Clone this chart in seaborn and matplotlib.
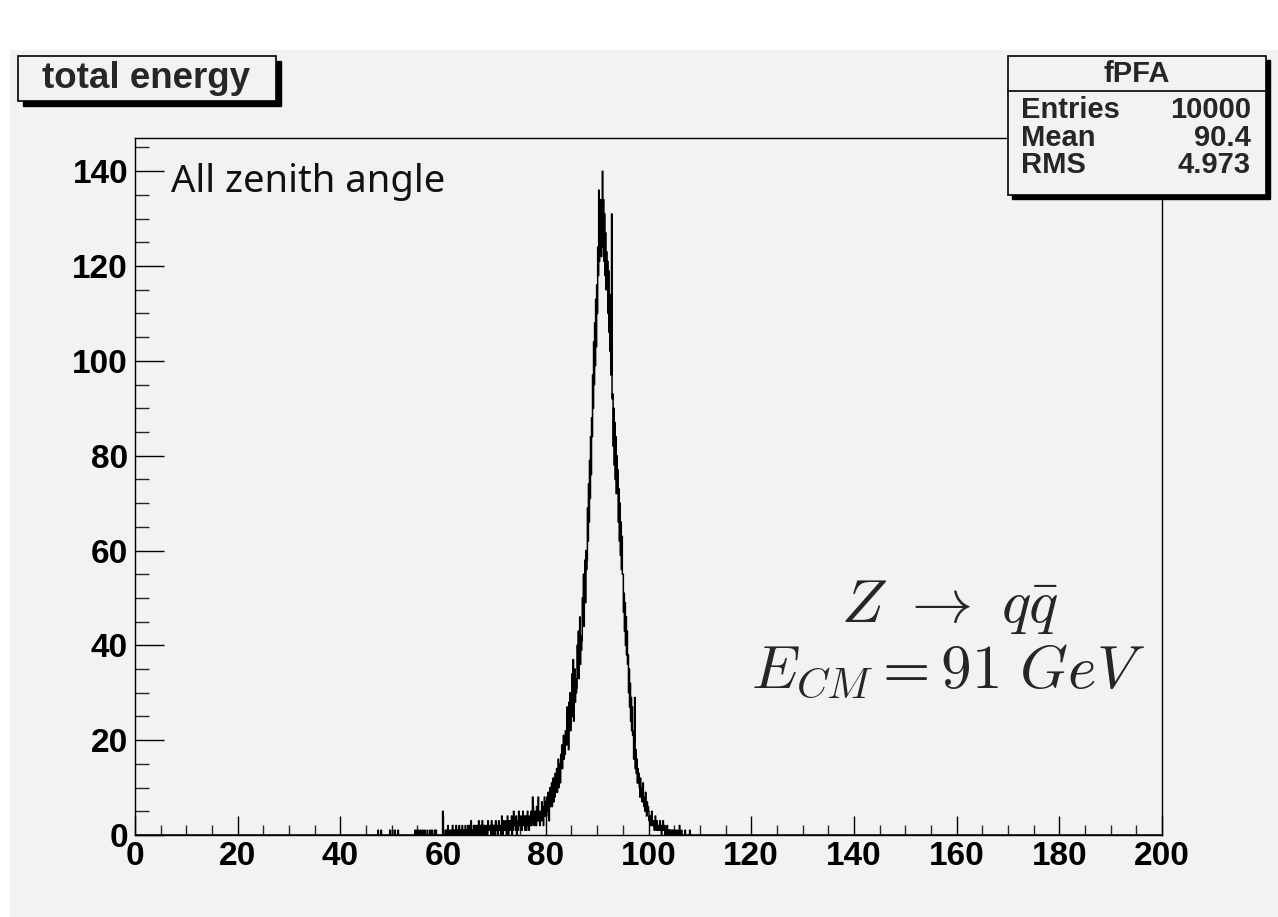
import numpy as np
import pandas as pd
import matplotlib
matplotlib.use("Agg")
import matplotlib.pyplot as plt
from matplotlib.patches import Rectangle
from matplotlib.lines import Line2D
from matplotlib.ticker import MultipleLocator
import seaborn as sns

# ---------------------------------------------------------------------------
# Histogram of total reconstructed energy: 2000 bins from 0 to 200 GeV
# ---------------------------------------------------------------------------
x_min, x_max, n_bins = 0.0, 200.0, 2000

# isolated low-energy bins (bin low edge in GeV, entries)
tail_low_x = [47.3, 47.9, 49.6, 50.1, 50.6, 51.2, 54.5, 54.8, 55.2, 55.6,
              56.0, 56.4, 56.9, 57.4, 57.8, 58.3, 58.6, 59.9, 60.4, 60.6,
              60.9, 61.2, 61.5, 61.8]
tail_low_n = [1, 1, 1, 1, 1, 1, 1, 1, 1, 1,
              1, 1, 1, 1, 1, 1, 1, 5, 1, 1,
              2, 1, 1, 2]

# consecutive bins starting at 62.0 GeV, one row per GeV
body_start = 62.0
body_rows = [
    [1, 0, 1, 0, 1, 2, 0, 1, 0, 1],            # 62
    [0, 2, 1, 0, 1, 0, 1, 2, 0, 1],            # 63
    [1, 0, 0, 2, 1, 0, 1, 1, 2, 0],            # 64
    [1, 2, 0, 1, 3, 0, 0, 1, 1, 2],            # 65
    [0, 1, 2, 1, 0, 1, 2, 0, 1, 3],            # 66
    [1, 0, 2, 1, 2, 0, 3, 1, 0, 2],            # 67
    [2, 1, 0, 2, 1, 2, 0, 3, 1, 1],            # 68
    [1, 2, 1, 0, 3, 1, 2, 0, 2, 1],            # 69
    [2, 0, 3, 1, 1, 2, 0, 1, 3, 2],            # 70
    [1, 2, 0, 2, 4, 1, 0, 3, 2, 1],            # 71
    [2, 3, 1, 0, 2, 4, 1, 0, 3, 2],            # 72
    [1, 3, 2, 4, 0, 3, 1, 5, 2, 2],            # 73
    [3, 1, 4, 0, 3, 2, 1, 5, 2, 3],            # 74
    [2, 4, 1, 1, 3, 5, 2, 3, 4, 1],            # 75
    [2, 4, 1, 3, 5, 2, 3, 1, 4, 2],            # 76
    [3, 5, 2, 4, 8, 6, 3, 2, 4, 5],            # 77
    [4, 2, 6, 3, 5, 8, 3, 4, 2, 5],            # 78
    [5, 3, 7, 4, 6, 2, 5, 8, 4, 6],            # 79
    [7, 4, 8, 5, 9, 6, 3, 7, 10, 6],           # 80
    [8, 11, 6, 9, 12, 7, 10, 8, 13, 9],        # 81
    [11, 14, 9, 13, 16, 10, 12, 15, 11, 17],   # 82
    [15, 19, 14, 18, 21, 16, 20, 17, 22, 19],  # 83
    [19, 27, 21, 25, 18, 28, 24, 30, 22, 26],  # 84
    [25, 34, 27, 37, 24, 31, 35, 28, 33, 30],  # 85
    [31, 40, 35, 43, 33, 38, 46, 36, 42, 39],  # 86
    [41, 50, 46, 55, 44, 52, 58, 49, 60, 56],  # 87
    [58, 69, 62, 74, 66, 79, 71, 84, 76, 88],  # 88
    [84, 97, 90, 104, 95, 108, 99, 113, 103, 116],       # 89
    [110, 124, 118, 136, 121, 131, 126, 134, 122, 129],  # 90
    [140, 124, 134, 121, 131, 118, 127, 115, 123, 119],  # 91
    [121, 110, 119, 106, 114, 102, 109, 97, 131, 92],    # 92
    [93, 82, 90, 78, 87, 75, 84, 72, 80, 74],  # 93
    [77, 66, 73, 62, 70, 59, 66, 56, 63, 55],  # 94
    [55, 47, 51, 43, 49, 40, 46, 38, 43, 36],  # 95
    [38, 30, 35, 27, 32, 24, 29, 22, 27, 21],  # 96
    [22, 16, 20, 29, 14, 18, 13, 16, 11, 14],  # 97
    [11, 13, 10, 8, 12, 9, 10, 7, 9, 11],      # 98
    [8, 6, 7, 5, 9, 6, 4, 7, 5, 6],            # 99
    [5, 3, 4, 2, 4, 3, 5, 2, 3, 2],            # 100
    [3, 1, 2, 4, 2, 1, 3, 2, 1, 2],            # 101
    [2, 1, 3, 1, 2, 0, 2, 1, 3, 1],            # 102
    [1, 2, 0, 1, 1, 0, 2, 1, 0, 1],            # 103
    [0, 1, 1, 0, 1, 0, 0, 1, 0, 1],            # 104
    [1, 0, 0, 1, 0, 0, 1, 0, 0, 0],            # 105
]

# isolated high-energy bins
tail_high_x = [106.0, 106.4, 107.1, 108.0]
tail_high_n = [2, 1, 1, 1]

# axis labelling
x_ticks = [0, 20, 40, 60, 80, 100, 120, 140, 160, 180, 200]
y_ticks = [0, 20, 40, 60, 80, 100, 120, 140]

hist_title = "total energy"
stats_name = "fPFA"
stats_rows = [("Entries", "10000"), ("Mean", "90.4"), ("RMS", "4.973")]
note_text = "All zenith angle"
proc_text = r"$Z\ \rightarrow\ q\bar{q}$"
ecm_text = r"$E_{CM} = 91\ GeV$"

# ---------------------------------------------------------------------------
# assemble bin contents
# ---------------------------------------------------------------------------
width = (x_max - x_min) / n_bins
edges = np.linspace(x_min, x_max, n_bins + 1)
centers = 0.5 * (edges[:-1] + edges[1:])
counts = np.zeros(n_bins)


def idx(x):
    return int(round((x - x_min) / width))


for x, n in zip(tail_low_x, tail_low_n):
    counts[idx(x)] += n
body = [v for row in body_rows for v in row]
i0 = idx(body_start)
counts[i0:i0 + len(body)] += body
for x, n in zip(tail_high_x, tail_high_n):
    counts[idx(x)] += n

df = pd.DataFrame({"energy": centers, "entries": counts})

# ---------------------------------------------------------------------------
# figure
# ---------------------------------------------------------------------------
sns.set_theme(style="ticks")
plt.rcParams["font.family"] = ["Liberation Sans", "DejaVu Sans"]
plt.rcParams["mathtext.fontset"] = "cm"

W, H = 1278, 917
pad_grey = "#f2f2f2"
fig = plt.figure(figsize=(W / 100, H / 100), dpi=100, facecolor="white")


def fx(px):
    return px / W


def fy(py):
    return 1 - py / H


# canvas pad
fig.add_artist(Rectangle((fx(10), 0), 1 - fx(10), fy(50), transform=fig.transFigure,
                         facecolor=pad_grey, edgecolor="none", zorder=0))

ax_l, ax_r, ax_t, ax_b = 135, 1162, 138, 835
ax = fig.add_axes([fx(ax_l), fy(ax_b), fx(ax_r - ax_l), (ax_b - ax_t) / H])
ax.set_facecolor(pad_grey)

sns.histplot(data=df, x="energy", weights="entries", bins=n_bins,
             binrange=(x_min, x_max), element="step",
             fill=False, color="black", linewidth=1.1, ax=ax)

ax.set_xlim(x_min, x_max)
ax.set_ylim(0, 1.05 * counts.max())
ax.set_xlabel("")
ax.set_ylabel("")
ax.set_xticks(x_ticks)
ax.set_yticks(y_ticks)
ax.xaxis.set_minor_locator(MultipleLocator(5))
ax.yaxis.set_minor_locator(MultipleLocator(5))
ax.tick_params(axis="x", which="major", direction="in", length=14, width=1,
               labelsize=24, pad=4, colors="black")
ax.tick_params(axis="x", which="minor", direction="in", length=7, width=1)
ax.tick_params(axis="y", which="major", direction="in", length=21, width=1,
               labelsize=24, pad=5, colors="black")
ax.tick_params(axis="y", which="minor", direction="in", length=10, width=1)
for lab in ax.get_xticklabels() + ax.get_yticklabels():
    lab.set_fontweight("bold")
for sp in ax.spines.values():
    sp.set_color("black")
    sp.set_linewidth(1.0)

# text inside the frame
fig.text(fx(171), fy(192), note_text, fontsize=27.5, family=["Noto Sans", "DejaVu Sans"],
         ha="left", va="baseline", color="#111111")
fig.text(fx(950), fy(622), proc_text, fontsize=44, ha="center", va="baseline")
fig.text(fx(948), fy(688), ecm_text, fontsize=44, ha="center", va="baseline")


def shadow_box(x0, y0, x1, y1, off=5):
    fig.add_artist(Rectangle((fx(x0 + off), fy(y1 + off)), fx(x1 - x0), (y1 - y0) / H,
                             transform=fig.transFigure, facecolor="black",
                             edgecolor="black", lw=1, zorder=5))
    fig.add_artist(Rectangle((fx(x0), fy(y1)), fx(x1 - x0), (y1 - y0) / H,
                             transform=fig.transFigure, facecolor=pad_grey,
                             edgecolor="black", lw=1.2, zorder=6))


# title box
shadow_box(18, 56, 276, 101)
fig.text(fx(146), fy(79), hist_title, fontsize=26.5, fontweight="bold",
         ha="center", va="center", zorder=7)

# statistics box
sx0, sy0, sx1, sy1 = 1008, 56, 1266, 195
shadow_box(sx0, sy0, sx1, sy1, off=4)
fig.add_artist(Line2D([fx(sx0), fx(sx1)], [fy(91), fy(91)], transform=fig.transFigure,
                      color="black", lw=1.2, zorder=7))
fig.text(fx((sx0 + sx1) / 2), fy(74), stats_name, fontsize=21, fontweight="bold",
         ha="center", va="center", zorder=7)
for k, (name, val) in enumerate(stats_rows):
    yy = 110 + 27.5 * k
    fig.text(fx(1021), fy(yy), name, fontsize=21, fontweight="bold",
             ha="left", va="center", zorder=7)
    fig.text(fx(1251), fy(yy), val, fontsize=21, fontweight="bold",
             ha="right", va="center", zorder=7)

fig.savefig("out.png", dpi=100, facecolor="white")
